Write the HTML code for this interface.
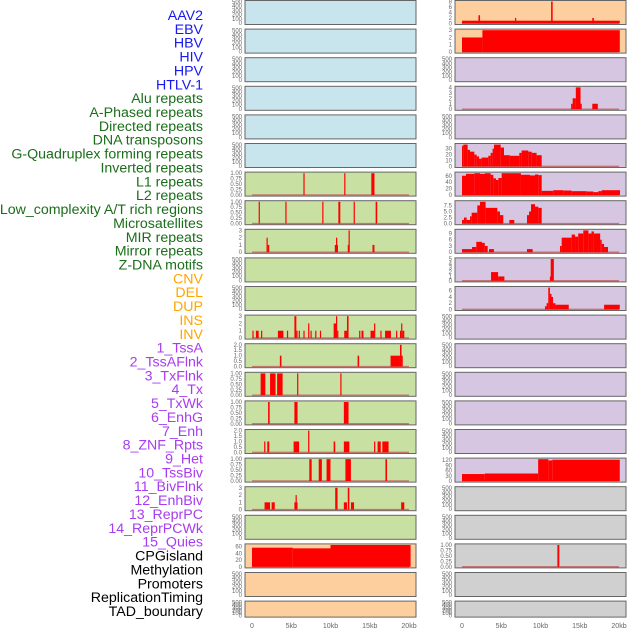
<!DOCTYPE html>
<html><head><meta charset="utf-8"><style>
html,body{margin:0;padding:0;background:#fff;width:630px;height:630px;overflow:hidden}
svg{display:block}
</style></head><body>
<svg id="chart" width="630" height="630" viewBox="0 0 630 630" xmlns="http://www.w3.org/2000/svg" font-family="Liberation Sans, sans-serif"></svg>
<script>
// ---- label data ----
const trackLabels = ["AAV2","EBV","HBV","HIV","HPV","HTLV-1","Alu repeats","A-Phased repeats","Directed repeats","DNA transposons","G-Quadruplex forming repeats","Inverted repeats","L1 repeats","L2 repeats","Low_complexity A/T rich regions","Microsatellites","MIR repeats","Mirror repeats","Z-DNA motifs","CNV","DEL","DUP","INS","INV","1_TssA","2_TssAFlnk","3_TxFlnk","4_Tx","5_TxWk","6_EnhG","7_Enh","8_ZNF_Rpts","9_Het","10_TssBiv","11_BivFlnk","12_EnhBiv","13_ReprPC","14_ReprPCWk","15_Quies","CPGisland","Methylation","Promoters","ReplicationTiming","TAD_boundary"];
const labelGroupCounts = [6,13,5,15,5];
const labelGroupColors = ["#1818f0","#1a6e1a","#ffa500","#a83cf0","#000000"];
const xTickValues = [0,5,10,15,20];
const xTickLabels = ["0","5kb","10kb","15kb","20kb"];

// ---- per-row backgrounds ----
const leftBg = ["blue","blue","blue","blue","blue","blue","green","green","green","green","green","green","green","green","green","green","green","green","green","orange","orange","orange"];
const rightBg = ["orange","orange","purple","purple","purple","purple","purple","purple","purple","purple","purple","purple","purple","purple","purple","purple","purple","gray","gray","gray","gray","gray"];

// ---- series: [startKb, endKb, value] ----
const L07 = [[6.55,6.7,1],[11.75,11.9,1],[15.2,15.6,1]];
const L08 = [[0.85,1.0,1],[4.25,4.4,1],[8.95,9.1,1],[11.0,11.25,1],[12.95,13.1,1],[15.75,15.95,1]];
const L09 = [[1.85,2.0,2],[2.0,2.2,1],[10.55,10.7,1],[10.7,10.8,2],[10.8,10.9,1],[12.2,12.3,1],[12.3,12.45,3],[15.35,15.6,1]];
const L12 = [[0.05,0.2,1],[0.5,0.85,1],[1.15,1.3,1],[3.3,4.0,1],[4.45,4.6,1],[5.4,5.65,3],[5.65,5.75,1],[5.95,6.1,1],[6.55,6.7,1],[7.15,7.3,2],[7.45,7.6,1],[8.05,8.2,1],[8.65,8.8,1],[10.4,10.7,2],[10.7,10.85,3],[10.85,10.95,1],[11.75,12.1,1],[12.1,12.3,3],[13.65,13.8,1],[13.95,14.2,1],[15.1,15.55,1],[15.55,15.7,2],[16.35,16.5,1],[16.95,17.7,1],[18.35,18.5,1],[18.85,19.0,1],[19.0,19.15,2],[19.15,19.4,1]];
const L13 = [[3.55,3.75,1],[13.45,13.65,1],[17.65,18.85,1],[18.85,19.05,2],[19.05,19.2,1]];
const L14 = [[1.1,1.7,1],[2.3,3.0,1],[3.2,3.9,1],[5.75,5.9,1],[11.25,11.4,1]];
const L15 = [[2.05,2.25,1],[5.4,5.8,1],[11.7,12.3,1]];
const L16 = [[1.55,1.7,1],[1.95,2.2,1],[5.3,6.0,1],[7.15,7.3,2],[10.4,10.6,1],[11.7,12.4,1],[15.55,15.7,1],[16.0,16.4,1],[16.6,17.4,1]];
const L17 = [[7.3,7.6,1],[8.5,8.9,1],[9.5,10.0,1],[11.9,12.6,1],[17.0,17.2,1]];
const L18 = [[1.6,2.3,1],[2.5,2.9,1],[5.4,5.8,1],[5.55,5.7,2],[10.6,10.9,3],[11.7,12.1,1],[12.2,12.4,3],[12.6,13.0,1],[19.0,19.4,1]];
const L20 = [[0,5.2,57],[5.2,10.0,55],[10.0,20.2,65]];

const R01 = [[0,20.1,1],[2.1,2.3,3],[6.75,6.9,2],[11.35,11.55,8],[16.6,16.8,2]];
const R02 = [[0,2.6,2],[2.6,20.1,3]];
const R04 = [[13.9,14.1,1],[14.1,14.5,2],[14.5,15.1,4],[15.1,15.2,1],[16.6,17.3,1]];
const R06 = [[0,0.17,35],[0.17,0.72,37],[0.72,1.02,28],[1.02,1.57,25],[1.57,1.87,20],[1.87,2.17,17],[2.17,2.5,13],[2.5,3.35,15],[3.35,3.65,18],[3.65,3.9,23],[3.9,4.08,30],[4.08,4.93,37],[4.93,5.35,32],[5.35,6.1,19],[6.1,7.3,18],[7.3,7.6,23],[7.6,8.45,27],[8.45,8.88,25],[8.88,9.5,23],[9.5,10.15,19]];
const R07 = [[0,0.51,60],[0.51,1.57,66],[1.57,2.29,68],[2.29,2.93,66],[2.93,3.65,68],[3.65,3.99,63],[3.99,4.33,52],[4.33,4.63,47],[4.63,5.05,53],[5.05,7.51,68],[7.51,8.66,63],[8.66,9.3,61],[9.3,9.72,64],[9.72,10.15,62],[10.15,11.63,13],[11.63,12.91,15],[12.91,13.97,14],[13.97,15.88,12],[15.88,16.73,11],[16.73,17.37,9],[17.37,17.79,12],[17.79,20.13,15]];
const R08 = [[0,0.25,1.5],[0.25,0.59,2.5],[0.59,1.02,1.5],[1.02,1.23,3],[1.23,1.95,4.5],[1.95,2.29,7.5],[2.29,3.01,9],[3.01,4.5,6.5],[4.5,4.84,5],[4.84,5.26,3.5],[6.03,6.66,1.5],[8.28,8.54,3.5],[8.54,8.79,5],[8.79,9.3,8],[9.3,9.72,7],[9.72,10.15,6.5]];
const R09 = [[0,1.27,1.5],[1.27,1.82,2.5],[1.82,2.55,5],[2.55,2.9,4.5],[2.9,3.27,3],[3.44,4.07,1.5],[8.28,9.0,1.5],[12.48,12.7,3],[12.7,13.97,7],[13.97,14.4,8.5],[14.4,14.8,7.5],[14.8,15.45,9],[15.45,16.1,10.5],[16.1,16.5,9],[16.5,16.8,10],[16.8,17.6,9],[17.6,17.8,6],[17.8,18.1,4],[18.1,18.6,2.5]];
const R10 = [[3.7,4.6,2],[4.6,5.4,1],[11.2,11.3,1],[11.3,11.7,5]];
const R11 = [[10.57,10.78,1],[10.78,10.99,2],[10.99,11.2,7],[11.2,11.4,5],[11.4,11.6,4],[11.6,11.9,2],[11.9,13.6,1.5],[18.1,20.1,1.5]];
const R17 = [[0,2.9,40],[2.9,9.7,43],[9.7,11.0,125],[11.0,11.5,118],[11.5,20.1,122]];
const R20 = [[12.15,12.4,1]];

// ---- y tick label sets ----
const T500 = ["0","100","200","300","400","500"];
const T1 = ["0.00","0.25","0.50","0.75","1.00"];
const T2 = ["0.0","0.5","1.0","1.5","2.0"];
const T3 = ["0","1","2","3"];
const leftSeries = [null,null,null,null,null,null,L07,L08,L09,null,null,L12,L13,L14,L15,L16,L17,L18,null,L20,null,null];
const leftTicks = [T500,T500,T500,T500,T500,T500,T1,T1,T3,T500,T500,T3,T2,T1,T1,T2,T1,T3,T500,["0","20","40","60"],T500,T500];
const rightSeries = [R01,R02,null,R04,null,R06,R07,R08,R09,R10,R11,null,null,null,null,null,R17,null,null,R20,null,null];
const rightTicks = [["0","2","4","6","8"],T3,T500,["0","1","2","3","4"],T500,["0","10","20","30"],["0","20","40","60"],["0.0","2.5","5.0","7.5"],["0","3","6","9"],["0","1","2","3","4","5"],["0","2","4","6"],T500,T500,T500,T500,T500,["0","30","60","90","120"],T500,T500,T1,T500,T500];

const bgColors = {blue:"#c8e4ec",green:"#c8e0a2",orange:"#fecf9e",purple:"#d6c6e2",gray:"#d0d0d0"};
const NS = "http://www.w3.org/2000/svg";
const svg = document.getElementById("chart");
function mk(tag, attrs, parent){const e=document.createElementNS(NS,tag);for(const k in attrs)e.setAttribute(k,attrs[k]);(parent||svg).appendChild(e);return e;}

// labels
let li=0;
labelGroupCounts.forEach((n,g)=>{
  for(let j=0;j<n;j++){
    const t=mk("text",{x:203,y:15+li*13.86+5,"text-anchor":"end","font-size":"14.2",fill:labelGroupColors[g]});
    t.textContent=trackLabels[li];
    
    
    li++;
  }
});

function drawColumn(x0, series, ticks, bgs, side){
  const pw=171, x0kb=x0+7, pxPerKb=7.85;
  const xs = kb => x0kb + kb*pxPerKb;
  for(let i=0;i<22;i++){
    const top = 0.5 + i*28.6;
    const h = i===21 ? 16 : 24;
    const g = mk("g",{});
    
    
    mk("rect",{x:x0,y:top,width:pw,height:h,fill:bgColors[bgs[i]],stroke:"#666","stroke-width":1},g);
    const data = series[i];
    const tk = ticks[i];
    let ymin, ymax;
    if(data){
      const mx = Math.max(...data.map(d=>d[2]));
      ymin = -0.05*mx; ymax = 1.05*mx;
    }
    const ys = v => data ? top + h - (v-ymin)/(ymax-ymin)*h : top + h - 1.5 - v/500*(h-3);
    tk.forEach(lab=>{
      const v=parseFloat(lab);
      const t=mk("text",{x:x0-3,y:ys(v)+2,"text-anchor":"end","font-size":"6",fill:"#666"},g);
      t.textContent=lab;
      
      
    });
    if(data){
      mk("line",{x1:xs(0),x2:xs(20),y1:ys(0),y2:ys(0),stroke:"#c06060","stroke-width":1.5,opacity:0.8},g);
      data.forEach(d=>{
        const xa=xs(d[0]), w=Math.max(xs(d[1])-xa,1.2);
        const r=mk("rect",{x:xa,y:ys(d[2]),width:w,height:ys(0)-ys(d[2]),fill:"#ff0000"},g);
        
        
      });
    }
  }
  xTickValues.forEach((v,k)=>{
    const t=mk("text",{x:xs(v),y:628,"text-anchor":"middle","font-size":"7",fill:"#666"});
    t.textContent=xTickLabels[k];
    
    
  });
}
drawColumn(245,leftSeries,leftTicks,leftBg,'left');
drawColumn(455,rightSeries,rightTicks,rightBg,'right');
</script>
</body></html>
